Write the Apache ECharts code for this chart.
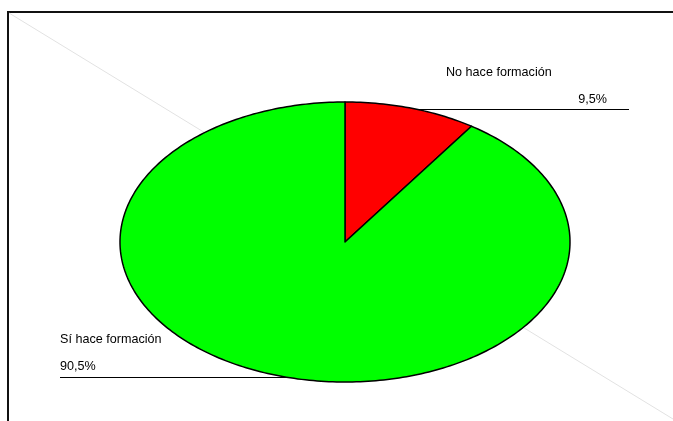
<!DOCTYPE html>
<html>
<head>
<meta charset="utf-8">
<script src="https://cdn.jsdelivr.net/npm/echarts@6/dist/echarts.min.js"></script>
<style>
  html, body { margin: 0; padding: 0; background: #fff; }
  #chart { width: 673px; height: 421px; }
</style>
</head>
<body>
<div id="chart"></div>
<script>
// datos del gráfico
const categories = ['No hace formación', 'Sí hace formación']
const values = [9.5, 90.5]
const valueLabels = ['9,5%', '90,5%']
const sliceColors = ['#ff0000', '#00ff00']

const total = values.reduce((a, b) => a + b, 0)

// elipse (el pastel de Excel está aplastado)
const cx = 345
const cy = 242
const rx = 225
const ry = 140

const renderSlice = (params, api) => {
  const i = params.dataIndex
  let before = 0
  for (let k = 0; k < i; k++) before += values[k]
  const start = before / total * Math.PI * 2
  const end = start + api.value(0) / total * Math.PI * 2
  const points = [[cx, cy]]
  const steps = Math.max(2, Math.ceil((end - start) / (Math.PI / 180)))
  for (let s = 0; s <= steps; s++) {
    const a = start + (end - start) * s / steps
    points.push([cx + rx * Math.sin(a), cy - ry * Math.cos(a)])
  }
  return {
    type: 'polygon',
    shape: { points: points },
    style: {
      fill: sliceColors[i],
      stroke: '#000',
      lineWidth: 1.5,
      lineJoin: 'round'
    }
  }
}

const chart = echarts.init(document.getElementById('chart'))

const textStyle = {
  fill: '#000',
  fontFamily: 'Liberation Sans, Arial, sans-serif',
  fontSize: 12.6
}

const option = {
  animation: false,
  backgroundColor: '#fff',
  graphic: [
    {
      type: 'rect', z: 0,
      shape: { x: 8, y: 12, width: 720, height: 460 },
      style: { fill: 'none', stroke: '#111', lineWidth: 2 }
    },
    {
      type: 'line', z: 0,
      shape: { x1: 9, y1: 13, x2: 673, y2: 419 },
      style: { stroke: '#e2e2e2', lineWidth: 1 }
    },
    {
      type: 'line', z: 0,
      shape: { x1: 345, y1: 109.5, x2: 629, y2: 109.5 },
      style: { stroke: '#000', lineWidth: 1 }
    },
    {
      type: 'line', z: 0,
      shape: { x1: 60, y1: 377.5, x2: 345, y2: 377.5 },
      style: { stroke: '#000', lineWidth: 1 }
    },
    {
      type: 'text', z: 10,
      style: Object.assign({ text: categories[0], x: 446, y: 73, textVerticalAlign: 'middle' }, textStyle)
    },
    {
      type: 'text', z: 10,
      style: Object.assign({ text: valueLabels[0], x: 607, y: 100, textAlign: 'right', textVerticalAlign: 'middle' }, textStyle)
    },
    {
      type: 'text', z: 10,
      style: Object.assign({ text: categories[1], x: 60, y: 340, textVerticalAlign: 'middle' }, textStyle)
    },
    {
      type: 'text', z: 10,
      style: Object.assign({ text: valueLabels[1], x: 60, y: 367, textVerticalAlign: 'middle' }, textStyle)
    }
  ],
  series: [{
    type: 'custom',
    coordinateSystem: 'none',
    z: 5,
    renderItem: renderSlice,
    data: values.map((v, i) => ({ name: categories[i], value: [v] }))
  }]
}

chart.setOption(option)
</script>
</body>
</html>
